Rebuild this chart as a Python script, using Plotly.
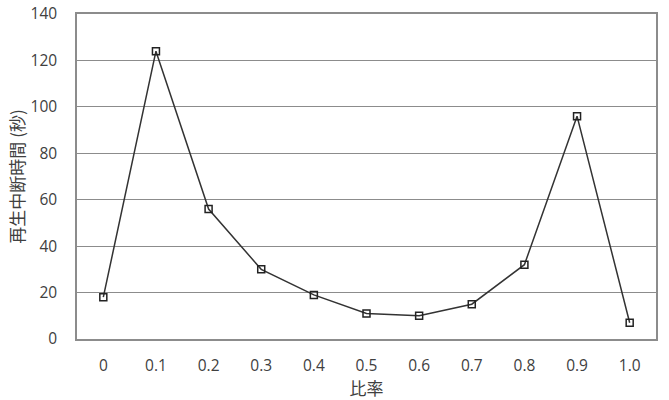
import plotly.graph_objects as go

categories = ["0", "0.1", "0.2", "0.3", "0.4", "0.5", "0.6", "0.7", "0.8", "0.9", "1.0"]
values = [18, 124, 56, 30, 19, 11, 10, 15, 32, 96, 7]
y_ticks = [0, 20, 40, 60, 80, 100, 120, 140]

font_fam = "Open Sans, Noto Sans CJK JP, sans-serif"

fig = go.Figure(go.Scatter(
    x=categories, y=values, mode="lines+markers",
    line=dict(color="#333333", width=1.5),
    marker=dict(symbol="square-open", size=7, color="#222222", line=dict(width=1.5)),
))

fig.update_layout(
    width=669, height=400,
    margin=dict(l=77, r=13, t=14, b=61),
    plot_bgcolor="white", paper_bgcolor="white",
    showlegend=False,
    font=dict(family=font_fam, size=15.5, color="#404040"),
)
fig.update_xaxes(
    type="category", range=[-0.5, len(categories) - 0.5],
    showgrid=False, showline=True, linecolor="#8c8c8c", linewidth=1.5,
    mirror=True, ticks="", ticklabelstandoff=12, automargin=False,
    title=dict(text="比率", font=dict(family="Noto Sans CJK JP", size=17, color="#404040"), standoff=4),
)
fig.update_yaxes(
    range=[0, 140], tickvals=y_ticks, showgrid=True, gridcolor="#8c8c8c", gridwidth=1.3,
    showline=True, linecolor="#8c8c8c", linewidth=1.5, mirror=True, ticks="",
    zeroline=False, ticklabelstandoff=15, automargin=False,
    title=dict(text="再生中断時間 (秒)", font=dict(family="Noto Sans CJK JP", size=17, color="#404040"), standoff=2),
)

fig.write_html("out.html")
